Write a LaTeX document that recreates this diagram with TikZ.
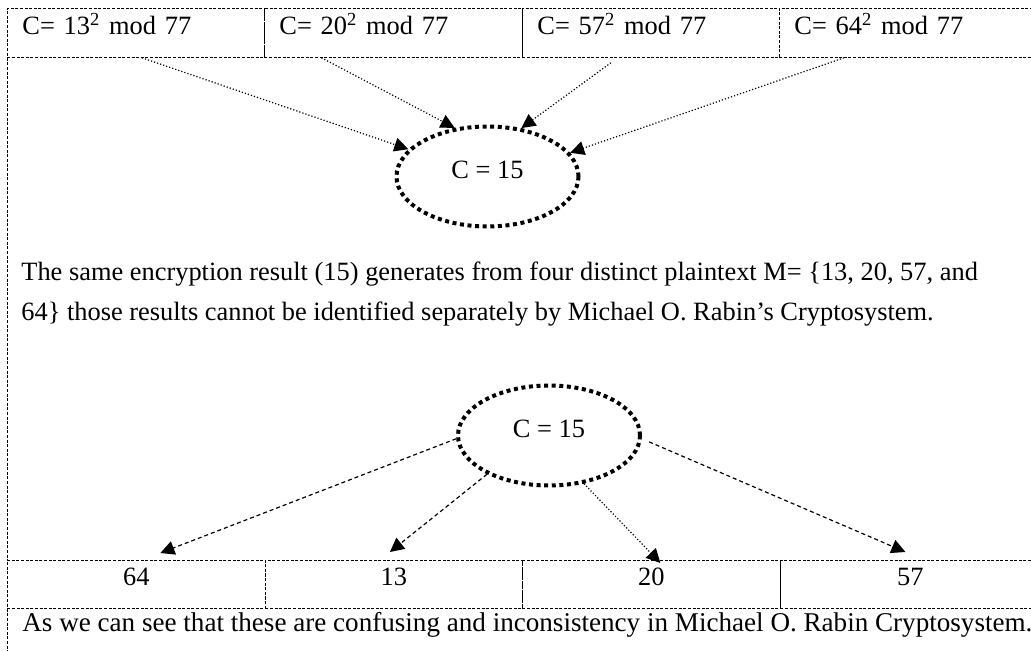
\documentclass[tikz,border=0pt]{standalone}
\usepackage{fontspec}
\setmainfont{Liberation Serif}
\usetikzlibrary{shapes.geometric,arrows.meta}

\begin{document}
\begin{tikzpicture}[x=0.5pt,y=-0.5pt,
    font=\fontsize{13.2}{15}\selectfont,
    grid/.style={draw,line width=0.4pt,dash pattern=on 1.5pt off 0.8pt},
    topcell/.style={grid,rectangle,anchor=north west,inner xsep=7.5pt,inner ysep=0pt,
        text width=#1,align=left,text height=13pt,text depth=11.5pt},
    botcell/.style={grid,rectangle,anchor=north west,minimum width=#1,inner sep=0pt,
        text height=12.5pt,text depth=11.5pt},
    ring/.style={ellipse,draw,line width=2pt,dash pattern=on 2pt off 1.8pt,
        minimum width=91pt,minimum height=50pt,inner sep=0pt,text depth=7pt},
    tip/.style={-{Triangle[length=7pt,width=7pt]},line width=0.6pt},
    dotline/.style={tip,densely dotted},
    dashline/.style={tip,dash pattern=on 2pt off 1.5pt},
    line/.style={anchor=base west,inner sep=0pt}]
    \useasboundingbox (0,0) rectangle (1031,651);

    % squares of the four plaintexts
    \node[topcell=113.5pt] (c1) at (7,8)   {C= 13\textsuperscript{2} mod 77};
    \node[topcell=114pt]   (c2) at (264,8) {C= 20\textsuperscript{2} mod 77};
    \node[topcell=113.5pt] (c3) at (522,8) {C= 57\textsuperscript{2} mod 77};
    \node[topcell=115.5pt] (c4) at (779,8) {C= 64\textsuperscript{2} mod 77};

    \node[ring] (e1) at (487.5,176.5) {C = 15};

    \draw[dotline] ([xshift=3pt]c1.south) -- (e1.161);
    \draw[dotline] ([xshift=-36pt]c2.south) -- (e1.124);
    \draw[dotline] ([xshift=-20pt,yshift=-2.5pt]c3.south) -- (e1.55);
    \draw[dotline] ([xshift=-33pt]c4.south) -- (e1.16);

    \node[line] (p1) at (21,281)
        {The same encryption result (15) generates from four distinct plaintext M= \{13, 20, 57, and};
    \node[line] (p2) at (21,321)
        {64\} those results cannot be identified separately by Michael O. Rabin’s Cryptosystem.};

    % decryption side
    \node[ring] (e2) at (549,435.5) {C = 15};

    \node[botcell=129pt]   (d1) at (7,560)   {64};
    \node[botcell=128.5pt] (d2) at (265,560) {13};
    \node[botcell=129pt]   (d3) at (522,560) {20};
    \node[botcell=130pt]   (d4) at (780,560) {57};

    \draw[dashline] (e2.182) -- ([xshift=12pt,yshift=3.5pt]d1.north);
    \draw[dashline] (e2.212) -- ([xshift=-2pt,yshift=4pt]d2.north);
    \draw[dotline]  (e2.306) -- ([xshift=4.5pt,yshift=-1.5pt]d3.north);
    \draw[dashline,shorten <=4pt] (e2.358) -- ([xshift=-2.5pt,yshift=4pt]d4.north);

    \draw[grid] (c1.south west) -- (d1.north west);
    \draw[grid] (d1.south west) -- ++(0,50);

    \node[line,font=\fontsize{13.55}{15}\selectfont] (note) at (22,631)
        {As we can see that these are confusing and inconsistency in Michael O. Rabin Cryptosystem.};
\end{tikzpicture}
\end{document}
